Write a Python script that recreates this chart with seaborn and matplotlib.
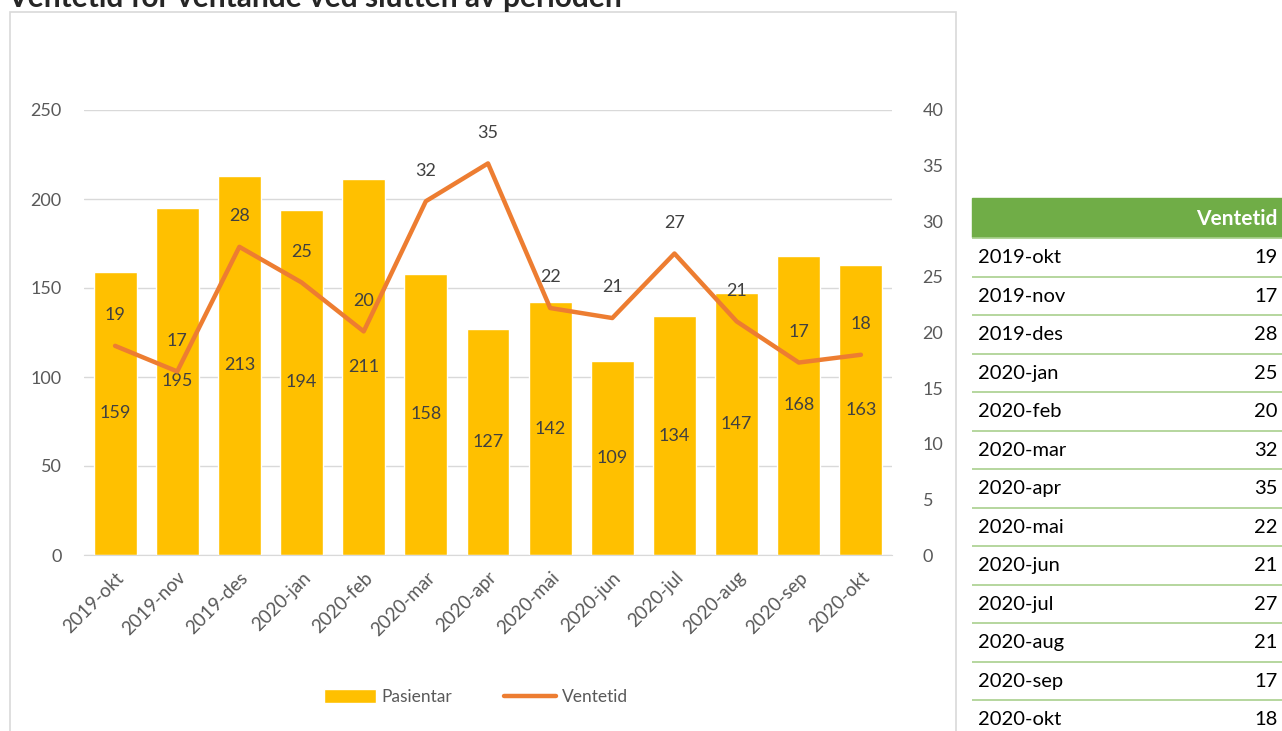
import numpy as np
import pandas as pd
import matplotlib
matplotlib.use("Agg")
import matplotlib.pyplot as plt
import seaborn as sns
from matplotlib.patches import Rectangle

maaneder = ["2019-okt", "2019-nov", "2019-des", "2020-jan", "2020-feb", "2020-mar",
            "2020-apr", "2020-mai", "2020-jun", "2020-jul", "2020-aug", "2020-sep", "2020-okt"]
pasientar = [159, 195, 213, 194, 211, 158, 127, 142, 109, 134, 147, 168, 163]
ventetid = [18.8, 16.5, 27.7, 24.5, 20.1, 31.8, 35.2, 22.2, 21.3, 27.1, 21.0, 17.3, 18.0]
ventetid_label = [19, 17, 28, 25, 20, 32, 35, 22, 21, 27, 21, 17, 18]

df = pd.DataFrame({"maaned": maaneder, "pasientar": pasientar, "ventetid": ventetid})

sns.set_style("white")
plt.rcParams["font.family"] = ["Lato", "DejaVu Sans"]

GRA = "#595959"
fig = plt.figure(figsize=(12.82, 7.31), dpi=100)

# ramme rundt diagrammet
fig.patches.append(Rectangle((10 / 1282, -0.05), 946 / 1282, 1 - 12 / 731 + 0.05,
                             transform=fig.transFigure, fill=False,
                             edgecolor="#D9D9D9", linewidth=1.2))

fig.text(7 / 1282, 1 - 7 / 731, "Ventetid for ventande ved slutten av perioden",
         fontsize=21.5, fontweight="bold", va="baseline", ha="left")

ax = fig.add_axes([84 / 1282, 1 - 555 / 731, 808 / 1282, 445 / 731])
sns.barplot(data=df, x="maaned", y="pasientar", color="#FFC000", saturation=1,
            width=0.69, ax=ax, label="Pasientar", legend=False)
ax.set_ylim(0, 250)
ax.set_yticks(range(0, 251, 50))
ax.yaxis.grid(True, color="#D9D9D9", linewidth=1)
ax.set_axisbelow(True)
ax.set_xlabel("")
ax.set_ylabel("")
for s in ["left", "right", "top"]:
    ax.spines[s].set_visible(False)
ax.spines["bottom"].set_color("#D9D9D9")
ax.tick_params(axis="both", length=0, colors=GRA, labelsize=13)
ax.tick_params(axis="y", pad=16)
plt.setp(ax.get_xticklabels(), rotation=45, ha="right", rotation_mode="anchor")
ax.tick_params(axis="x", pad=10, labelsize=13.5)
ax.bar_label(ax.containers[0], label_type="center", color="#404040", fontsize=13)

ax2 = ax.twinx()
sns.lineplot(x=np.arange(len(maaneder)), y=ventetid, color="#ED7D31", linewidth=3.2,
             ax=ax2, label="Ventetid", legend=False)
ax2.set_ylim(0, 40)
ax2.set_yticks(range(0, 41, 5))
ax.set_xlim(-0.5, len(maaneder) - 0.5)
for s in ax2.spines.values():
    s.set_visible(False)
ax2.tick_params(axis="y", length=0, colors=GRA, labelsize=13, pad=22)
for i, (v, lab) in enumerate(zip(ventetid, ventetid_label)):
    ax2.annotate(str(lab), (i, v), xytext=(0, 22), textcoords="offset points",
                 ha="center", va="center", color="#404040", fontsize=13)

h1, l1 = ax.get_legend_handles_labels()
h2, l2 = ax2.get_legend_handles_labels()
fig.legend(h1 + h2, l1 + l2, loc="center", bbox_to_anchor=(476 / 1282, 1 - 697 / 731),
           ncol=2, frameon=False, fontsize=12.5, labelcolor=GRA, handlelength=3.0,
           handleheight=0.8, columnspacing=3.0, handletextpad=0.3)

# tabell til hoegre
tab = fig.add_axes([972 / 1282, 0, 310 / 1282, 1 - 198 / 731])
tab.set_xlim(0, 1)
row_h = 38.5
tab.set_ylim((731 - 198) / row_h, 0)
tab.axis("off")
tab.add_patch(Rectangle((0, 0), 1, 1, color="#70AD47", clip_on=False))
tab.text(0.985, 0.55, "Ventetid", color="white", fontweight="bold", fontsize=15,
         ha="right", va="center")
for i, (m, lab) in enumerate(zip(maaneder, ventetid_label)):
    tab.text(0.02, i + 1.55, m, fontsize=14.5, ha="left", va="center", color="black")
    tab.text(0.985, i + 1.55, str(lab), fontsize=14.5, ha="right", va="center", color="black")
    tab.axhline(i + 1.05, color="#A9D08E", linewidth=1.2)

fig.savefig("out.png", dpi=100)
